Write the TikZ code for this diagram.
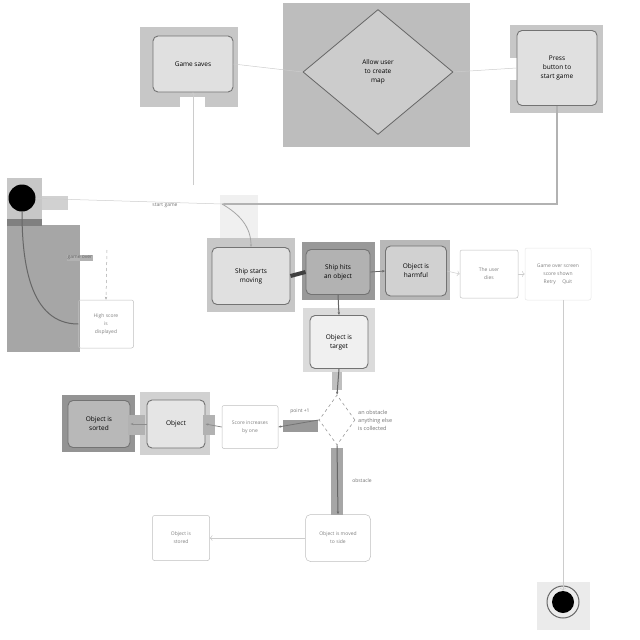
\documentclass[tikz,border=0pt]{standalone}
\usepackage{fontspec}
\setmainfont{Open Sans}
\usetikzlibrary{shapes.geometric,arrows.meta}
\begin{document}
\begin{tikzpicture}[x=1pt,y=-1pt,
  act/.style={draw=black!55,line width=0.9pt,rounded corners=5pt,align=center,font=\fontsize{6.5}{9}\selectfont,inner sep=1pt},
  plain/.style={draw=black!25,line width=0.5pt,rounded corners=2pt,align=center,font=\fontsize{5}{8}\selectfont,text=black!50,inner sep=1pt},
  flow/.style={draw=black!60,line width=0.8pt,-{Stealth[length=3pt]}},
  faint/.style={draw=black!20,line width=0.5pt},
  lbl/.style={font=\fontsize{5}{6}\selectfont,text=black!55,inner sep=1pt}]
\useasboundingbox (0,0) rectangle (640,640);
% grey backgrounds
\fill[black!22] (140,27) rectangle (238,107);
\fill[black!26] (283,3) rectangle (470,147);
\fill[black!22] (510,25) rectangle (603,113);
\fill[black!22] (7,178) rectangle (42,225);
\fill[black!35] (7,225) rectangle (80,352);
\fill[black!50] (7,219) rectangle (42,226);
\fill[black!22] (207,238) rectangle (295,312);
\fill[black!40] (302,242) rectangle (375,300);
\fill[black!28] (380,240) rectangle (450,300);
\fill[black!14] (303,308) rectangle (375,372);
\fill[black!42] (62,395) rectangle (135,452);
\fill[black!18] (140,392) rectangle (210,455);
\fill[black!8] (537,582) rectangle (590,630);
\fill[black!6] (220,195) rectangle (258,238);
\fill[white] (180,97) rectangle (205,107);
\fill[white] (505,58) rectangle (525,80);
% activity nodes
\node[act,fill=black!12,minimum width=80pt,minimum height=56pt] (gs) at (193,64) {Game saves};
\node[draw=black!60,line width=0.8pt,diamond,aspect=1.2,fill=black!20,minimum width=150pt,minimum height=125pt,align=center,font=\fontsize{6.5}{9}\selectfont,inner sep=0pt] (map) at (378,72) {Allow user\\to create\\map};
\node[act,fill=black!12,minimum width=80pt,minimum height=75pt] (press) at (557,68) {Press\\button to\\start game};
\node[circle,fill=black,minimum size=27pt,inner sep=0pt] (init) at (22,198) {};
\coordinate (merge) at (222,204);
\coordinate (gsin) at (193,185);
\node[lbl] (mlbl) at (165,205) {start game};
\node[act,fill=black!12,minimum width=78pt,minimum height=57pt] (move) at (251,276) {Ship starts\\moving};
\node[act,fill=black!30,minimum width=64pt,minimum height=45pt] (hits) at (338,272) {Ship hits\\an object};
\node[act,fill=black!18,minimum width=61pt,minimum height=50pt] (harm) at (416,271) {Object is\\harmful};
\node[plain,minimum width=58pt,minimum height=48pt] (dies) at (489,274) {The user\\dies};
\node[plain,draw=black!10,minimum width=66pt,minimum height=52pt] (over) at (558,274) {Game over screen\\score shown\\Retry \quad Quit};
\node[act,fill=black!6,minimum width=58pt,minimum height=53pt] (target) at (339,342) {Object is\\target};
\node[diamond,draw=black!40,dashed,line width=0.6pt,minimum width=36pt,minimum height=50pt,inner sep=0pt] (dec) at (337,420) {};
\node[lbl,align=left,anchor=west,font=\fontsize{5.5}{8}\selectfont] (declbl) at (357,420) {an obstacle\\anything else\\is collected};
\node[plain,minimum width=56pt,minimum height=43pt] (score) at (250,427) {Score increases\\by one};
\node[act,fill=black!10,minimum width=58pt,minimum height=48pt] (obj) at (176,424) {Object};
\node[act,fill=black!28,minimum width=62pt,minimum height=47pt] (coll) at (99,424) {Object is\\sorted};
\node[plain,minimum width=55pt,minimum height=48pt] (high) at (106,324) {High score\\is\\displayed};
\node[plain,minimum width=57pt,minimum height=45pt] (stored) at (181,538) {Object is\\stored};
\node[plain,rounded corners=5pt,minimum width=65pt,minimum height=47pt] (moved) at (338,538) {Object is moved\\to side};
\node[circle,fill=black,minimum size=22pt,inner sep=0pt] (fin) at (563,602) {};
\draw[black!60,line width=1pt] (fin) circle (16pt);
% connectors
\fill[black!18] (42,196) rectangle (68,210);
\draw[faint] (init) -- (merge);
\draw[flow,draw=black!30,line width=1.2pt] (press.south) |- (merge);
\draw[flow,draw=black!35] (merge) to[out=-30,in=90] (move.north);
\draw[faint,->] (gsin) -- (gs.south);
\draw[faint] (map.west) -- (gs.east);
\draw[faint] (map.east) -- (press.west);
\draw[flow,draw=black!35,dashed,line width=0.5pt] (107,250) -- (high.north);
\node[lbl,fill=black!30,text=black!60] (golbl) at (80,258) {game over};
\draw[black!60,line width=1pt] (high.west) to[out=180,in=-90] (init.south);
\draw[black!75,line width=4pt] (move.east) -- (hits.west);
\draw[flow] (hits.east) -- (harm.west);
\draw[faint,->] (harm.east) -- (dies.west);
\draw[faint,->] (dies.east) -- (over.west);
\draw[faint,->] (fin.north |- over.south) -- (fin.north);
\draw[flow,line width=1pt] (hits.south) -- (target.north);
\fill[black!25] (332,372) rectangle (342,390);
\draw[flow,line width=1pt] (target.south) -- (dec.north);
\fill[black!40] (283,420) rectangle (318,432);
\draw[flow,draw=black!55] (dec.west) -- (score.east);
\node[lbl] (ptlbl) at (300,411) {point +1};
\fill[black!30] (203,415) rectangle (215,435);
\draw[flow,draw=black!45] (score.west) -- (obj.east);
\fill[black!30] (128,415) rectangle (145,435);
\draw[flow,draw=black!45] (obj.west) -- (coll.east);
\fill[black!35] (331,448) rectangle (343,515);
\draw[flow,line width=1pt] (dec.south) -- (moved.north);
\node[lbl] (oblbl) at (362,481) {obstacle};
\draw[faint,->] (moved.west) -- (stored.east);
\end{tikzpicture}
\end{document}
